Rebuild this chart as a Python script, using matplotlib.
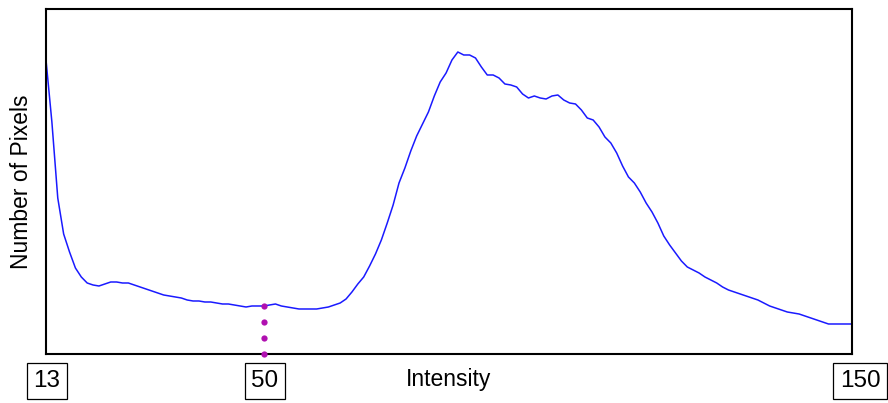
import numpy as np
import matplotlib
matplotlib.use("Agg")
import matplotlib.pyplot as plt

plt.rcParams['font.family'] = ['Liberation Sans', 'DejaVu Sans']

# intensity values 13..150 and the pixel counts
intensity = list(range(13, 151))
counts = [
    2940, 2320, 1560, 1200, 1020, 860, 770, 710, 690, 680,
    700, 720, 720, 710, 710, 690, 670, 650, 630, 610,
    590, 580, 570, 560, 540, 530, 530, 520, 520, 510,
    500, 500, 490, 480, 470, 480, 480, 480, 490, 500,
    480, 470, 460, 450, 450, 450, 450, 460, 470, 490,
    510, 550, 620, 700, 770, 880, 1000, 1140, 1310, 1490,
    1710, 1860, 2030, 2180, 2300, 2420, 2580, 2720, 2810, 2940,
    3020, 2990, 2990, 2960, 2870, 2790, 2790, 2760, 2700, 2690,
    2670, 2600, 2560, 2580, 2560, 2550, 2580, 2590, 2540, 2510,
    2500, 2440, 2360, 2340, 2270, 2170, 2110, 2010, 1880, 1770,
    1710, 1620, 1510, 1420, 1310, 1180, 1090, 1010, 930, 870,
    840, 810, 770, 740, 710, 670, 640, 620, 600, 580,
    560, 540, 510, 480, 460, 440, 420, 410, 400, 380,
    360, 340, 320, 300, 300, 300, 300, 300,
]
marked = 50
tick_values = [13, 50, 150]

fig = plt.figure(figsize=(8.88, 4.03), dpi=100)
ax = fig.add_axes([0.0518, 0.1216, 0.9077, 0.8561])

ax.plot(intensity, counts, color='#1a1aff', lw=1.1)

# dotted marker line from the curve down to the axis
y_mark = counts[intensity.index(marked)]
ax.plot([marked] * 4, np.linspace(0, y_mark, 4), 'o', color='#b010b0',
        ms=4.5, mec='none', clip_on=False, zorder=5)

ax.set_xlim(13, 150)
ax.set_ylim(0, 3450)
ax.set_xticks([])
ax.set_yticks([])
for s in ax.spines.values():
    s.set_linewidth(1.5)

offsets = {13: 1, 50: 1, 150: 8}
for v in tick_values:
    ax.annotate(str(v), xy=(v, 0), xycoords=('data', 'axes fraction'),
                xytext=(offsets[v] * 0.72, -27 * 0.72), textcoords='offset points',
                ha='center', va='center', fontsize=17.5,
                bbox=dict(boxstyle='square,pad=0.27', fc='white', ec='black', lw=0.9),
                annotation_clip=False)

ax.text(0.5, -0.073, 'Intensity', transform=ax.transAxes, ha='center', va='center', fontsize=16.5)
ax.set_ylabel('Number of Pixels', fontsize=16.5, labelpad=9)

fig.savefig('out.png', dpi=100)
